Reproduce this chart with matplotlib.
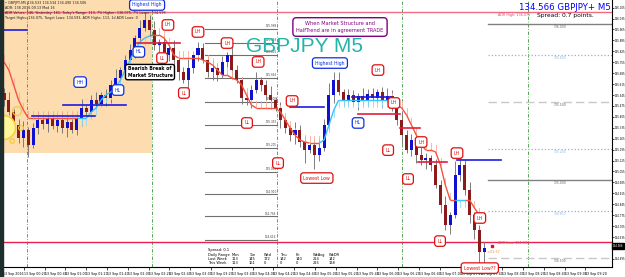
"""
GBPJPY M5 - market structure + HalfTrend screenshot (MT4 style).
"""

import matplotlib
matplotlib.use("Agg")
import numpy as np
import matplotlib.pyplot as plt
from matplotlib.collections import LineCollection

# ── Data ───────────────────────────────────────────────────────────────────
closes = [
    135.513, 135.436, 135.353, 135.269, 135.321, 135.225, 135.334, 135.385, 135.359, 135.398,
    135.346, 135.385, 135.334, 135.372, 135.321, 135.398, 135.462, 135.436, 135.513, 135.487,
    135.545, 135.526, 135.609, 135.654, 135.705, 135.769, 135.833, 135.910, 135.975, 136.026,
    135.962, 135.866, 135.885, 135.801, 135.846, 135.769, 135.692, 135.641, 135.718, 135.801,
    135.846, 135.769, 135.692, 135.718, 135.673, 135.757, 135.801, 135.705, 135.641, 135.526,
    135.513, 135.577, 135.641, 135.609, 135.545, 135.513, 135.462, 135.385, 135.334, 135.289,
    135.321, 135.244, 135.192, 135.225, 135.160, 135.205, 135.353, 135.545, 135.641, 135.564,
    135.513, 135.545, 135.500, 135.539, 135.513, 135.551, 135.526, 135.564, 135.513, 135.539,
    135.481, 135.385, 135.289, 135.192, 135.257, 135.160, 135.128, 135.141, 135.096, 134.968,
    134.840, 134.712, 134.776, 135.032, 135.096, 134.936, 134.776, 134.680, 134.539, 134.566,
]
first_open = 135.560

# wick lengths in pips (0.01)
wick_up = [
    3, 5, 2, 4, 6, 2, 3, 5, 2, 4,
    3, 2, 5, 3, 2, 4, 6, 2, 3, 5,
    2, 4, 3, 6, 2, 3, 4, 2, 5, 5,
    3, 6, 2, 4, 3, 5, 2, 3, 6, 2,
    4, 3, 2, 5, 3, 4, 2, 6, 3, 2,
    4, 3, 5, 2, 3, 6, 2, 4, 3, 2,
    5, 3, 4, 2, 3, 6, 4, 8, 5, 5,
    2, 4, 3, 2, 5, 3, 4, 2, 3, 5,
    4, 2, 6, 3, 4, 2, 5, 3, 2, 4,
    3, 6, 2, 9, 6, 3, 5, 2, 3, 4,
]
wick_dn = [
    4, 2, 5, 3, 6, 8, 2, 4, 3, 5,
    2, 4, 3, 6, 2, 3, 5, 2, 4, 3,
    2, 5, 3, 2, 4, 3, 2, 5, 3, 2,
    4, 3, 6, 2, 4, 3, 5, 2, 6, 3,
    4, 2, 3, 5, 4, 2, 3, 6, 2, 4,
    3, 5, 2, 4, 3, 6, 2, 5, 3, 4,
    6, 3, 8, 2, 9, 4, 2, 3, 5, 2,
    4, 3, 2, 5, 3, 4, 2, 3, 5, 2,
    4, 3, 6, 2, 4, 5, 3, 6, 4, 2,
    5, 3, 6, 2, 4, 3, 5, 6, 9, 10,
]

# HalfTrend line and its direction (1 = up / cyan, 0 = down / red)
halftrend = [
    135.757, 135.705, 135.609, 135.513, 135.449, 135.398, 135.398, 135.398, 135.398, 135.398,
    135.398, 135.398, 135.398, 135.398, 135.398, 135.398, 135.398, 135.398, 135.436, 135.462,
    135.513, 135.545, 135.564, 135.590, 135.641, 135.705, 135.769, 135.833, 135.885, 135.910,
    135.923, 135.930, 135.930, 135.910, 135.866, 135.801, 135.782, 135.782, 135.782, 135.782,
    135.782, 135.769, 135.757, 135.737, 135.705, 135.673, 135.673, 135.654, 135.641, 135.609,
    135.545, 135.481, 135.462, 135.462, 135.462, 135.462, 135.462, 135.436, 135.385, 135.334,
    135.289, 135.257, 135.244, 135.237, 135.237, 135.237, 135.257, 135.353, 135.449, 135.513,
    135.513, 135.513, 135.513, 135.513, 135.513, 135.513, 135.513, 135.513, 135.513, 135.513,
    135.513, 135.481, 135.462, 135.417, 135.353, 135.289, 135.225, 135.192, 135.192, 135.180,
    135.096, 134.968, 134.872, 134.872, 134.872, 134.872, 134.872, 134.821, 134.776, 134.757,
]
trend = [0] * 16 + [1] * 15 + [0] * 35 + [1] * 14 + [0] * 14 + [1] * 2 + [0] * 4

# market structure lines: (start bar, end bar, price, colour)
struct_lines = [
    (-0.2, 4.7, 135.962, "#1c1ce0"),
    (5.8, 18.8, 135.410, "#1c1ce0"),
    (12.2, 25.2, 135.481, "#1c1ce0"),
    (27.4, 36.3, 135.878, "#e0203c"),
    (59.0, 66.0, 135.468, "#1c1ce0"),
    (71.8, 79.6, 135.532, "#1c1ce0"),
    (73.0, 81.6, 135.423, "#e0203c"),
    (81.6, 85.8, 135.334, "#e0203c"),
    (85.4, 91.3, 135.116, "#e0203c"),
    (93.4, 102.5, 135.128, "#1c1ce0"),
]

# structure tags
tag_text = ["Highest High", "LH", "LH", "LL", "HL", "HH", "HL", "LL", "LH", "LH",
            "Highest High", "LH", "LL", "LH", "HL", "LH", "LL", "LL", "Lowest Low", "LH",
            "LL", "LH", "LH", "LL", "Lowest Low??"]
tag_bar = [29.5, 33.8, 40.0, 32.6, 27.8, 15.7, 23.5, 37.1, 46.0, 52.4,
           67.2, 77.1, 50.1, 59.4, 73.0, 80.4, 79.2, 56.5, 64.5, 86.0,
           83.3, 93.4, 98.1, 89.9, 98.1]
tag_price = [136.122, 135.994, 135.949, 135.782, 135.821, 135.628, 135.577, 135.558, 135.878, 135.757,
             135.750, 135.705, 135.366, 135.507, 135.366, 135.494, 135.192, 135.109, 135.013, 135.244,
             135.007, 135.173, 134.757, 134.609, 134.436]
tag_up = [1, 0, 0, 0, 1, 1, 1, 0, 0, 0,
          1, 0, 0, 0, 1, 0, 0, 0, 0, 0,
          0, 0, 0, 0, 0]

# fibo levels (drawn between bars 41.4 and 56.3)
fib_prices = [135.968, 135.878, 135.801, 135.654, 135.500, 135.353,
              135.205, 135.051, 134.910, 134.769, 134.616]

# levels on the right side
right_levels = [136.000, 135.800, 135.500, 135.200, 135.000, 134.800, 134.500]
right_styles = ["solid", "dotted", "dashed", "dotted", "solid", "dotted", "dashed"]
right_colors = ["#808080", "#8fb4dc", "#c8c8c8", "#8fb4dc", "#808080", "#8fb4dc", "#c8c8c8"]

adr_high, adr_low = 136.077, 134.603
separators = [4.74, 30.5, 56.3, 82.1, 108.0]

price_ticks = [136.105, 136.035, 135.965, 135.895, 135.825, 135.755, 135.685, 135.615,
               135.545, 135.475, 135.405, 135.335, 135.265, 135.195, 135.125, 135.055,
               134.985, 134.915, 134.845, 134.775, 134.705, 134.635, 134.495]

time_labels = ["13 Sep 2016", "13 Sep 00:20", "13 Sep 00:40", "13 Sep 01:00", "13 Sep 01:20",
               "13 Sep 01:40", "13 Sep 02:00", "13 Sep 02:20", "13 Sep 02:40", "13 Sep 03:00",
               "13 Sep 03:20", "13 Sep 03:40", "13 Sep 04:00", "13 Sep 04:20", "13 Sep 04:40",
               "13 Sep 05:00", "13 Sep 05:20", "13 Sep 05:40", "13 Sep 06:00", "13 Sep 06:20",
               "13 Sep 06:40", "13 Sep 07:00", "13 Sep 07:20", "13 Sep 07:40", "13 Sep 08:00",
               "13 Sep 08:20", "13 Sep 08:40", "13 Sep 09:00", "13 Sep 09:20"]

range_days = ["Mon", "Tue", "Wed", "Thu", "Fri", "WkAvg", "WkDR"]
last_week = [113, 145, 172, 142, 140, 214, 142]
this_week = [113, 161, 0, 0, 0, 215, 138]

# ── Figure ─────────────────────────────────────────────────────────────────
W, H = 625, 277
def fx(px):
    return px / W

def fy(py):
    return 1 - py / H

fig = plt.figure(figsize=(W / 100, H / 100), dpi=100, facecolor="white")
ax = fig.add_axes([fx(3), 10 / H, 609 / W, 267 / H])
X0, X1 = -0.206, 125.36
YLO, YHI = 134.443, 136.154
ax.set_xlim(X0, X1)
ax.set_ylim(YLO, YHI)

# peach background zone
ax.fill_between([X0, 30.5], 135.173, YHI, color="#fddcb0", lw=0, zorder=0)

# day separators
for s in separators:
    ax.axvline(s, color="#3a9a3a", lw=0.6, ls=(0, (4, 2, 1, 2)), zorder=1)

# ADR lines
ax.axhline(adr_high, color="#f06a84", lw=1.0, zorder=2)
ax.axhline(adr_low, color="#e8204a", lw=1.0, zorder=2)

# fibo lines
for p in fib_prices:
    ax.plot([41.4, 56.3], [p, p], color="#707070", lw=0.8, zorder=2)
    ax.text(56.2, p + 0.004, f"{p:.3f}", fontsize=2.0, color="#404040",
            ha="right", va="bottom", zorder=2)

# right side levels
for p, ls, c in zip(right_levels, right_styles, right_colors):
    ax.plot([99.8, X1], [p, p], color=c, lw=1.0 if ls != "dotted" else 0.9,
            ls=ls if ls != "dashed" else (0, (6, 3)), zorder=2)
    ax.text(114.6, p - 0.006, f"{p:.3f}", fontsize=2.2, color=c if ls == "dotted" else "#606060",
            ha="center", va="top", zorder=2)

# ── Candles ────────────────────────────────────────────────────────────────
n = len(closes)
xs = np.arange(n)
opens = [first_open] + closes[:-1]
highs = [max(o, c) + w / 100 for o, c, w in zip(opens, closes, wick_up)]
lows = [min(o, c) - w / 100 for o, c, w in zip(opens, closes, wick_dn)]
ax.vlines(xs, lows, highs, color="#7c7c7c", lw=0.7, zorder=3)
cols = ["#1010d0" if c >= o else "#8b1a1a" for o, c in zip(opens, closes)]
bottoms = [min(o, c) for o, c in zip(opens, closes)]
heights = [max(abs(c - o), 0.004) for o, c in zip(opens, closes)]
ax.bar(xs, heights, bottom=bottoms, width=0.62, color=cols, lw=0, zorder=4)

# ── HalfTrend ──────────────────────────────────────────────────────────────
segs, seg_cols = [], []
for i in range(1, n):
    segs.append([(i - 1, halftrend[i - 1]), (i, halftrend[i])])
    seg_cols.append("#33c4ff" if trend[i] else "#f5533d")
ax.add_collection(LineCollection(segs, colors=seg_cols, lw=1.0, zorder=5))
for i in range(n):
    if trend[i]:
        ax.plot([i, i], [halftrend[i], halftrend[i] - 0.045], color="#8fdcff", lw=0.6, zorder=3)
    else:
        ax.plot([i, i], [halftrend[i], halftrend[i] + 0.045], color="#ffaa9a", lw=0.6, zorder=3)

# structure lines
for x0, x1, p, c in struct_lines:
    ax.plot([x0, x1], [p, p], color=c, lw=1.2, zorder=5)

# structure tags
for t, bx, p, up in zip(tag_text, tag_bar, tag_price, tag_up):
    c = "#1030e0" if up else "#e01010"
    ax.text(bx, p, t, ha="center", va="center", fontsize=3.3, color=c,
            bbox=dict(boxstyle="round,pad=0.6", fc="white", ec=c, lw=0.9),
            zorder=8, clip_on=False)

ax.text(30.1, 135.692, "Bearish Break of\nMarket Structure", ha="center", va="center",
        fontsize=3.3, fontweight="bold", color="black", linespacing=1.3,
        bbox=dict(boxstyle="round,pad=0.45", fc="white", ec="black", lw=1.0), zorder=8)

# sun icon on the left edge
ax.scatter([-0.2], [135.340], s=300, color="#fff59a", edgecolors="#f2d23c", lw=1.2,
           zorder=9, clip_on=False)
ax.scatter([2.7, 3.5, 1.7], [135.442, 135.334, 135.250], s=[40, 12, 10],
           facecolors="none", edgecolors="#f2c830", lw=0.8, zorder=9, clip_on=False)

# last price marks
ax.plot([100.7], [134.577], marker="s", ms=2, color="#e01030", zorder=6)
ax.text(101.8, adr_low - 0.008, "ADR Low: 134.593", fontsize=2.4, color="#f04060",
        ha="left", va="center", zorder=6)
ax.text(101.8, adr_high - 0.02, "ADR High: 136.075", fontsize=2.4, color="#f04060",
        ha="left", va="center", zorder=6)
ax.text(99.6, 134.540, "<-01:57", fontsize=2.4, color="#e8902c", ha="left", va="center", zorder=6)

# ── Axes styling ───────────────────────────────────────────────────────────
for side in ["top", "left"]:
    ax.spines[side].set_visible(False)
for side in ["bottom", "right"]:
    ax.spines[side].set_linewidth(0.8)
    ax.spines[side].set_color("black")
ax.yaxis.tick_right()
ax.set_yticks(price_ticks)
ax.set_yticklabels([f"{p:.3f}" for p in price_ticks])
ax.tick_params(axis="y", labelsize=1.9, length=1.5, width=0.5, pad=0.5)
ax.text(1.001, 134.577, "134.566", transform=ax.get_yaxis_transform(), fontsize=1.9,
        color="white", ha="left", va="center", clip_on=False, zorder=10,
        bbox=dict(boxstyle="square,pad=0.25", fc="black", ec="black"))

time_px = [3 + 20.8 * k for k in range(len(time_labels))]
ax.set_xticks([(p - 4) / 4.85 for p in time_px])
ax.set_xticklabels(time_labels, ha="left")
ax.tick_params(axis="x", labelsize=2.3, length=2, width=0.5, pad=1.5)

# ── Texts ──────────────────────────────────────────────────────────────────
fig.patches.append(plt.Rectangle((0, 0), fx(3), 1, transform=fig.transFigure,
                                 color="#1e2e2c", zorder=0))

fig.text(fx(305), fy(47), "GBPJPY M5", fontsize=15, color="#22b5a8",
         family="Liberation Sans", ha="center", va="center")
fig.text(fx(340), fy(27), "When Market Structure and\nHalfTrend are in agreement TRADE",
         fontsize=3.6, color="#800080", ha="center", va="center", linespacing=1.4,
         bbox=dict(boxstyle="round,pad=0.7", fc="white", ec="#800080", lw=1.0))
fig.text(fx(611), fy(7), "134.566 GBPJPY+ M5", fontsize=6.2, color="#0000ff",
         ha="right", va="center")
fig.text(fx(565), fy(16), "Spread: 0.7 points.", fontsize=4.3, color="black",
         ha="center", va="center")

info = ["\u2022 GBPJPY,M5 134.533 134.534 134.490 134.506",
        "ADR: 138 2016.09.13 Mod 16",
        "ADR Values: 146, Yesterday: 161, Today's Range: 113, 7% Higher: 136.075, 7% Lower: 134.593",
        "Target Highs: 136.075, Target Lows: 134.593, ADR Highs: 113, 1d ADR Lows: 0"]
for k, line in enumerate(info):
    fig.text(fx(5), fy(3 + 5 * k), line, fontsize=2.4, color="#202020",
             ha="left", va="center")

# daily range table
col_px = [232, 249, 264, 280, 296, 313, 329]
fig.text(fx(208), fy(250), "Spread: 0.1", fontsize=2.6, color="black", va="center")
fig.text(fx(208), fy(255), "Daily Range", fontsize=2.6, color="black", va="center")
fig.text(fx(208), fy(259.5), "Last Week", fontsize=2.6, color="black", va="center")
fig.text(fx(208), fy(263.5), "This Week", fontsize=2.6, color="black", va="center")
for cx, d, lw_, tw in zip(col_px, range_days, last_week, this_week):
    fig.text(fx(cx), fy(255), d, fontsize=2.6, color="black", va="center")
    fig.text(fx(cx), fy(259.5), str(lw_), fontsize=2.6, color="black", va="center")
    fig.text(fx(cx), fy(263.5), str(tw), fontsize=2.6, color="black", va="center")

fig.savefig("out.png", dpi=100, facecolor="white")
